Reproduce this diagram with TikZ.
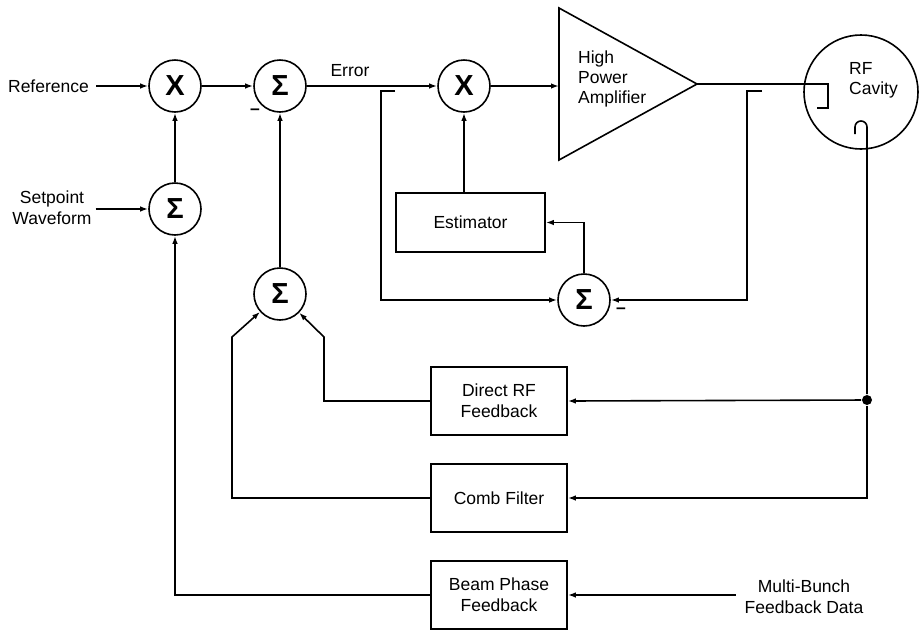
\documentclass[tikz,border=0pt]{standalone}
\usepackage{fontspec}
\setmainfont{Liberation Sans}
\usetikzlibrary{arrows.meta}
\begin{document}
\begin{tikzpicture}[x=1pt,y=-1pt,
  line width=1.6pt,
  arr/.style={-{Latex[length=8pt,width=5.5pt]}},
  junc/.style={circle,draw,minimum size=52pt,inner sep=0pt},
  sig/.style={junc,font=\bfseries\fontsize{29}{29}\selectfont},
  mul/.style={junc,font=\bfseries\fontsize{29}{29}\selectfont},
  blk/.style={draw,minimum width=136pt,minimum height=68pt,align=center,font=\fontsize{17.5}{21}\selectfont},
  lbl/.style={align=center,font=\fontsize{17.5}{21}\selectfont},
  lbll/.style={align=left,font=\fontsize{17.5}{20}\selectfont},
]
\useasboundingbox (0,0) rectangle (923,630);

% junctions
\node[mul] (x1) at (175,86) {X};
\node[sig] (s1) at (175,209) {Σ};
\node[sig] (s2) at (280,86) {Σ};
\node[sig] (s3) at (280,294) {Σ};
\node[mul] (x2) at (464,86) {X};
\node[sig] (s4) at (584,300) {Σ};

% blocks
\node[blk,minimum width=149pt,minimum height=59pt] (est) at (470.5,222.5) {Estimator};
\node[blk] (drf) at (499,401) {Direct RF\\Feedback};
\node[blk] (comb) at (499,498) {Comb Filter};
\node[blk] (beam) at (499,595) {Beam Phase\\Feedback};

% amplifier
\coordinate (atl) at (559,8);
\coordinate (abl) at (559,160);
\coordinate (atip) at (697,84);
\coordinate (ain) at (559,86);
\draw (atl) -- (atip) -- (abl) -- cycle;
\node[lbll,anchor=west] (hpa) at (574,79) {High\\Power\\Amplifier};

% cavity
\node[circle,draw,minimum size=114pt,inner sep=0pt] (cav) at (861,92) {};
\node[lbll,anchor=west] (cavt) at (845,80) {RF\\Cavity};
\coordinate (c1) at (828,84);
\coordinate (c2) at (828,108);
\coordinate (c3) at (817,108);
\draw (atip) -- (c1) -- (c2) -- (c3);
\coordinate (p0) at (855,134);
\node[circle,fill,inner sep=0pt,minimum size=10pt] (dot) at (867,400) {};
\draw (p0) -- ++(0,-7) arc (180:360:6) -- (dot);

% labels
\node[lbl,anchor=east] (ref) at (93,86) {Reference};
\node[lbl] (sp) at (52,208) {Setpoint\\Waveform};
\node[lbl] (err) at (350,71) {Error};
\node[lbl] (mb) at (804,597) {Multi-Bunch\\Feedback Data};
\node[font=\bfseries\fontsize{17.5}{20}\selectfont] (m2) at (255,112) {\textendash};
\node[font=\bfseries\fontsize{17.5}{20}\selectfont] (m4) at (621,311) {\textendash};

% forward path
\draw[arr] ([xshift=3pt]ref.east) -- (x1);
\draw[arr] (sp.east |- s1) -- (s1);
\draw[arr] (s1) -- (x1);
\draw[arr] (x1) -- (s2);
\draw[arr] (s2) -- (x2);
\draw[arr] (x2) -- (ain);
\draw[arr] (s3) -- (s2);
\draw[arr] (x2 |- est.north) -- (x2);

% estimator loop
\coordinate (sl) at (395,91);
\coordinate (sr) at (762,91);
\draw[arr] (sl) -- ++(-14,0) |- (s4);
\draw[arr] (sr) -- ++(-15,0) |- (s4);
\draw[arr] (s4) |- (est);

% feedback paths
\draw[arr] (dot) -- (drf.east);
\draw[arr] (dot) |- (comb.east);
\draw[arr] (drf.west) -- (324,401) -- (324,337) -- (s3);
\draw[arr] (comb.west) -- (232,498) -- (232,337) -- (s3);
\draw[arr] (beam.west) -| (s1);
\draw[arr] ([xshift=-5pt]mb.west |- beam.east) -- (beam.east);
\end{tikzpicture}
\end{document}
